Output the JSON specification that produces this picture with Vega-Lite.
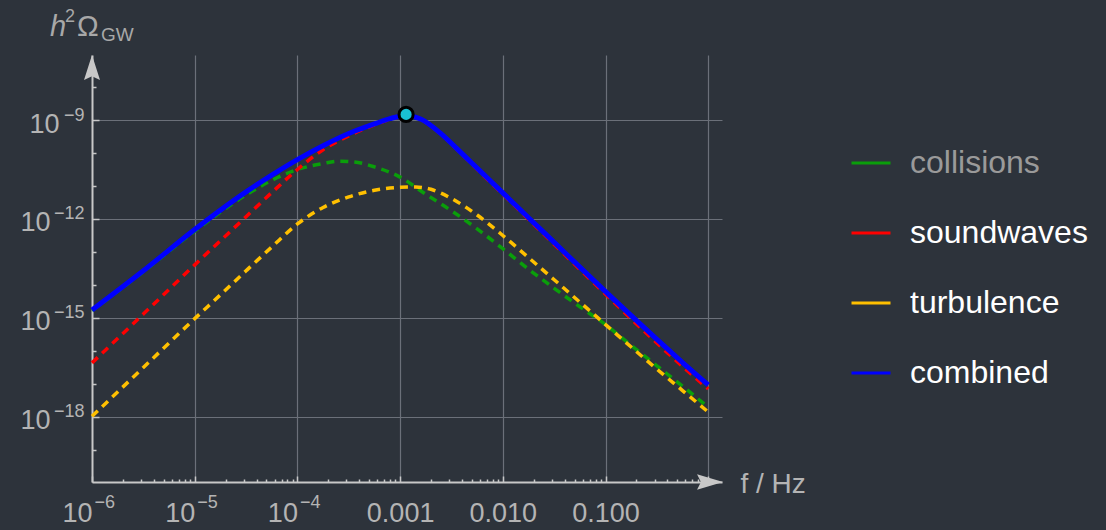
{
  "$schema": "https://vega.github.io/schema/vega-lite/v6.json",
  "width": 630,
  "height": 427,
  "autosize": {"type": "none"},
  "padding": {"left": 92, "top": 55, "right": 384, "bottom": 48},
  "background": "#2d333b",
  "config": {"view": {"stroke": null}, "font": "Liberation Sans"},
  "resolve": {"axis": {"x": "independent", "y": "independent"}},
  "datasets": {
    "curves": [
      {"series": "collisions", "f": 1e-6, "omega": 1.660e-15},
      {"series": "collisions", "f": 3.162e-6, "omega": 2.512e-14},
      {"series": "collisions", "f": 1e-5, "omega": 4.266e-13},
      {"series": "collisions", "f": 3.162e-5, "omega": 5.370e-12},
      {"series": "collisions", "f": 5.623e-5, "omega": 1.479e-11},
      {"series": "collisions", "f": 1e-4, "omega": 3.162e-11},
      {"series": "collisions", "f": 1.778e-4, "omega": 4.786e-11},
      {"series": "collisions", "f": 2.512e-4, "omega": 5.623e-11},
      {"series": "collisions", "f": 3.548e-4, "omega": 5.370e-11},
      {"series": "collisions", "f": 5.623e-4, "omega": 3.802e-11},
      {"series": "collisions", "f": 1e-3, "omega": 1.862e-11},
      {"series": "collisions", "f": 1.778e-3, "omega": 5.623e-12},
      {"series": "collisions", "f": 3.162e-3, "omega": 1.778e-12},
      {"series": "collisions", "f": 5.623e-3, "omega": 5.012e-13},
      {"series": "collisions", "f": 1e-2, "omega": 1.259e-13},
      {"series": "collisions", "f": 1.778e-2, "omega": 3.020e-14},
      {"series": "collisions", "f": 3.162e-2, "omega": 7.943e-15},
      {"series": "collisions", "f": 5.623e-2, "omega": 2.188e-15},
      {"series": "collisions", "f": 0.1, "omega": 6.310e-16},
      {"series": "collisions", "f": 0.1778, "omega": 1.479e-16},
      {"series": "collisions", "f": 0.3162, "omega": 3.548e-17},
      {"series": "collisions", "f": 0.5623, "omega": 8.511e-18},
      {"series": "collisions", "f": 1, "omega": 1.995e-18},

      {"series": "soundwaves", "f": 1e-6, "omega": 4.365e-17},
      {"series": "soundwaves", "f": 3.162e-6, "omega": 1.318e-15},
      {"series": "soundwaves", "f": 1e-5, "omega": 4.074e-14},
      {"series": "soundwaves", "f": 3.162e-5, "omega": 1.175e-12},
      {"series": "soundwaves", "f": 5.623e-5, "omega": 6.310e-12},
      {"series": "soundwaves", "f": 1e-4, "omega": 3.162e-11},
      {"series": "soundwaves", "f": 1.778e-4, "omega": 1.259e-10},
      {"series": "soundwaves", "f": 3.162e-4, "omega": 3.311e-10},
      {"series": "soundwaves", "f": 5.623e-4, "omega": 7.079e-10},
      {"series": "soundwaves", "f": 7.943e-4, "omega": 1.047e-9},
      {"series": "soundwaves", "f": 1.148e-3, "omega": 1.318e-9},
      {"series": "soundwaves", "f": 1.585e-3, "omega": 1.047e-9},
      {"series": "soundwaves", "f": 2.512e-3, "omega": 3.631e-10},
      {"series": "soundwaves", "f": 3.548e-3, "omega": 1.318e-10},
      {"series": "soundwaves", "f": 5.012e-3, "omega": 4.571e-11},
      {"series": "soundwaves", "f": 7.079e-3, "omega": 1.585e-11},
      {"series": "soundwaves", "f": 1e-2, "omega": 5.623e-12},
      {"series": "soundwaves", "f": 1.778e-2, "omega": 9.772e-13},
      {"series": "soundwaves", "f": 3.162e-2, "omega": 1.698e-13},
      {"series": "soundwaves", "f": 5.623e-2, "omega": 2.951e-14},
      {"series": "soundwaves", "f": 0.1, "omega": 5.248e-15},
      {"series": "soundwaves", "f": 0.1778, "omega": 9.333e-16},
      {"series": "soundwaves", "f": 0.3162, "omega": 1.738e-16},
      {"series": "soundwaves", "f": 0.5623, "omega": 3.388e-17},
      {"series": "soundwaves", "f": 1, "omega": 7.079e-18},

      {"series": "turbulence", "f": 1e-6, "omega": 1.047e-18},
      {"series": "turbulence", "f": 3.162e-6, "omega": 3.162e-17},
      {"series": "turbulence", "f": 1e-5, "omega": 9.550e-16},
      {"series": "turbulence", "f": 1.778e-5, "omega": 5.012e-15},
      {"series": "turbulence", "f": 3.162e-5, "omega": 2.692e-14},
      {"series": "turbulence", "f": 5.623e-5, "omega": 1.413e-13},
      {"series": "turbulence", "f": 1e-4, "omega": 7.079e-13},
      {"series": "turbulence", "f": 1.778e-4, "omega": 2.239e-12},
      {"series": "turbulence", "f": 3.162e-4, "omega": 4.677e-12},
      {"series": "turbulence", "f": 5.623e-4, "omega": 7.413e-12},
      {"series": "turbulence", "f": 1e-3, "omega": 9.120e-12},
      {"series": "turbulence", "f": 1.413e-3, "omega": 9.333e-12},
      {"series": "turbulence", "f": 1.995e-3, "omega": 7.943e-12},
      {"series": "turbulence", "f": 3.162e-3, "omega": 4.169e-12},
      {"series": "turbulence", "f": 5.623e-3, "omega": 1.318e-12},
      {"series": "turbulence", "f": 1e-2, "omega": 3.162e-13},
      {"series": "turbulence", "f": 1.778e-2, "omega": 6.761e-14},
      {"series": "turbulence", "f": 3.162e-2, "omega": 1.445e-14},
      {"series": "turbulence", "f": 5.623e-2, "omega": 3.020e-15},
      {"series": "turbulence", "f": 0.1, "omega": 6.310e-16},
      {"series": "turbulence", "f": 0.1778, "omega": 1.318e-16},
      {"series": "turbulence", "f": 0.3162, "omega": 2.818e-17},
      {"series": "turbulence", "f": 0.5623, "omega": 6.310e-18},
      {"series": "turbulence", "f": 1, "omega": 1.413e-18},

      {"series": "combined", "f": 1e-6, "omega": 1.738e-15},
      {"series": "combined", "f": 3.162e-6, "omega": 2.692e-14},
      {"series": "combined", "f": 1e-5, "omega": 4.786e-13},
      {"series": "combined", "f": 3.162e-5, "omega": 6.607e-12},
      {"series": "combined", "f": 5.623e-5, "omega": 2.138e-11},
      {"series": "combined", "f": 1e-4, "omega": 6.310e-11},
      {"series": "combined", "f": 1.778e-4, "omega": 1.660e-10},
      {"series": "combined", "f": 3.162e-4, "omega": 3.890e-10},
      {"series": "combined", "f": 5.623e-4, "omega": 7.586e-10},
      {"series": "combined", "f": 7.943e-4, "omega": 1.096e-9},
      {"series": "combined", "f": 1.148e-3, "omega": 1.380e-9},
      {"series": "combined", "f": 1.585e-3, "omega": 1.072e-9},
      {"series": "combined", "f": 2.512e-3, "omega": 3.802e-10},
      {"series": "combined", "f": 3.548e-3, "omega": 1.380e-10},
      {"series": "combined", "f": 5.012e-3, "omega": 4.898e-11},
      {"series": "combined", "f": 7.079e-3, "omega": 1.738e-11},
      {"series": "combined", "f": 1e-2, "omega": 6.166e-12},
      {"series": "combined", "f": 1.778e-2, "omega": 1.096e-12},
      {"series": "combined", "f": 3.162e-2, "omega": 1.950e-13},
      {"series": "combined", "f": 5.623e-2, "omega": 3.467e-14},
      {"series": "combined", "f": 0.1, "omega": 6.310e-15},
      {"series": "combined", "f": 0.1778, "omega": 1.175e-15},
      {"series": "combined", "f": 0.3162, "omega": 2.239e-16},
      {"series": "combined", "f": 0.5623, "omega": 4.467e-17},
      {"series": "combined", "f": 1, "omega": 9.333e-18}
    ],
    "peak": [{"f": 1.143e-3, "omega": 1.479e-9}]
  },
  "layer": [
    {
      "data": {"name": "curves"},
      "transform": [{"filter": "datum.series !== 'combined'"}],
      "mark": {"type": "line", "strokeDash": [8, 6], "strokeWidth": 3.5, "interpolate": "monotone"},
      "encoding": {
        "x": {
          "field": "f", "type": "quantitative",
          "scale": {"type": "log", "domain": [1e-6, 1.361], "nice": false},
          "axis": {
            "orient": "bottom",
            "title": "f / Hz", "titleX": 648, "titleY": 10, "titleAlign": "left", "titleBaseline": "alphabetic",
            "titleFontSize": 28, "titleFontWeight": "normal", "titleColor": "#b4b4b4", "titleFont": "Liberation Sans",
            "values": [1e-6,2e-6,3e-6,4e-6,5e-6,6e-6,7e-6,8e-6,9e-6,1e-5,2e-5,3e-5,4e-5,5e-5,6e-5,7e-5,8e-5,9e-5,1e-4,2e-4,3e-4,4e-4,5e-4,6e-4,7e-4,8e-4,9e-4,0.001,0.002,0.003,0.004,0.005,0.006,0.007,0.008,0.009,0.01,0.02,0.03,0.04,0.05,0.06,0.07,0.08,0.09,0.1,0.2,0.3,0.4,0.5,0.6,0.7,0.8,0.9,1],
            "labelExpr": "abs(log(datum.value)/LN10 - round(log(datum.value)/LN10)) > 0.01 ? '' : round(log(datum.value)/LN10) <= -4 ? '10' : round(log(datum.value)/LN10) == -3 ? '0.001' : round(log(datum.value)/LN10) == -2 ? '0.010' : round(log(datum.value)/LN10) == -1 ? '0.100' : ''",
            "labelAlign": {"condition": {"test": "datum.value < 2e-4", "value": "right"}, "value": "center"},
            "labelBaseline": "alphabetic",
            "labelFontSize": 27, "labelColor": "#b4b4b4", "labelFont": "Liberation Sans", "labelFlush": false, "labelOverlap": false, "labelPadding": 45,
            "tickSize": {"condition": {"test": "abs(log(datum.value)/LN10 - round(log(datum.value)/LN10)) < 0.01", "value": -6}, "value": -3},
            "tickColor": "#c8c8c8", "tickWidth": 1.5,
            "domainColor": "#c8c8c8", "domainWidth": 2,
            "grid": true, "gridColor": "#6b7079", "gridWidth": 1.2,
            "gridOpacity": {"condition": {"test": "abs(log(datum.value)/LN10 - round(log(datum.value)/LN10)) < 0.01 && datum.value > 2e-6", "value": 1}, "value": 0}
          }
        },
        "y": {
          "field": "omega", "type": "quantitative",
          "scale": {"type": "log", "domain": [1.07e-20, 9.33e-8], "nice": false},
          "axis": {
            "orient": "left",
            "title": null,
            "values": [1e-19,1e-18,1e-17,1e-16,1e-15,1e-14,1e-13,1e-12,1e-11,1e-10,1e-9,1e-8],
            "labelExpr": "round(log(datum.value)/LN10) % 3 == 0 ? '10' : ''",
            "labelAlign": "right", "labelBaseline": "alphabetic", "labelOffset": 12,
            "labelFontSize": 27, "labelColor": "#b4b4b4", "labelFont": "Liberation Sans", "labelFlush": false, "labelOverlap": false,
            "labelPadding": {"condition": {"test": "datum.value > 1e-10", "value": 40}, "value": 49},
            "tickSize": {"condition": {"test": "round(log(datum.value)/LN10) % 3 == 0", "value": -7}, "value": -4},
            "tickColor": "#c8c8c8", "tickWidth": 1.5,
            "domainColor": "#c8c8c8", "domainWidth": 2,
            "grid": true, "gridColor": "#6b7079", "gridWidth": 1.2,
            "gridOpacity": {"condition": {"test": "round(log(datum.value)/LN10) % 3 == 0", "value": 1}, "value": 0}
          }
        },
        "color": {
          "field": "series", "type": "nominal",
          "scale": {"domain": ["collisions", "soundwaves", "turbulence", "combined"], "range": ["#0a9e0a", "#ff0000", "#ffc000", "#0000ff"]},
          "legend": {
            "title": null, "orient": "none", "legendX": 758, "legendY": 87, "padding": 0,
            "symbolType": "stroke", "symbolSize": 1521, "symbolStrokeWidth": 3, "symbolDash": [1, 0],
            "labelFontSize": 32, "labelFont": "Liberation Sans", "labelColor": "#ffffff", "labelOffset": 18, "labelLimit": 0,
            "rowPadding": 33,
            "encode": {"labels": {"update": {"fill": {"signal": "datum.label === 'collisions' ? '#9a9a9a' : '#ffffff'"}}}}
          }
        }
      }
    },
    {
      "data": {"name": "curves"},
      "transform": [{"filter": "datum.series === 'combined'"}],
      "mark": {"type": "line", "strokeWidth": 5, "interpolate": "monotone"},
      "encoding": {
        "x": {"field": "f", "type": "quantitative", "axis": null},
        "y": {"field": "omega", "type": "quantitative", "axis": null},
        "color": {"field": "series", "type": "nominal"}
      }
    },
    {
      "data": {"name": "peak"},
      "mark": {"type": "point", "shape": "circle", "filled": true, "fill": "#19c0d4", "stroke": "#000000", "strokeWidth": 3, "size": 200, "opacity": 1},
      "encoding": {
        "x": {
          "field": "f", "type": "quantitative",
          "axis": {
            "orient": "bottom", "title": null, "values": [1e-6, 1e-5, 1e-4],
            "labelExpr": "'−' + (-round(log(datum.value)/LN10))",
            "labelAlign": "left", "labelBaseline": "alphabetic", "labelPadding": 25, "labelOffset": 2,
            "labelFontSize": 18, "labelColor": "#b4b4b4", "labelFont": "Liberation Sans", "labelFlush": false, "labelOverlap": false,
            "ticks": false, "tickSize": 0, "domain": false, "grid": false
          }
        },
        "y": {
          "field": "omega", "type": "quantitative",
          "axis": {
            "orient": "left", "title": null, "values": [1e-18, 1e-15, 1e-12, 1e-9],
            "labelExpr": "'−' + (-round(log(datum.value)/LN10))",
            "labelAlign": "right", "labelBaseline": "alphabetic", "labelPadding": 8,
            "labelFontSize": 18, "labelColor": "#b4b4b4", "labelFont": "Liberation Sans", "labelFlush": false, "labelOverlap": false,
            "ticks": false, "tickSize": 0, "domain": false, "grid": false
          }
        }
      }
    },
    {
      "data": {"values": [{}]},
      "mark": {"type": "point", "shape": "M0,-1L0.64,1L0,0.7L-0.64,1Z", "size": 625, "filled": true, "color": "#c8c8c8", "opacity": 1, "strokeWidth": 0},
      "encoding": {"x": {"datum": 1e-6, "type": "quantitative", "axis": null}, "y": {"datum": 3.89e-8, "type": "quantitative", "axis": null}}
    },
    {
      "data": {"values": [{}]},
      "mark": {"type": "point", "shape": "M1,0L-1,-0.6L-0.7,0L-1,0.6Z", "size": 676, "filled": true, "color": "#c8c8c8", "opacity": 1, "strokeWidth": 0},
      "encoding": {"x": {"datum": 1.041, "type": "quantitative", "axis": null}, "y": {"datum": 1.07e-20, "type": "quantitative", "axis": null}}
    },
    {
      "data": {"values": [{}]},
      "mark": {"type": "text", "text": "h", "font": "Liberation Sans", "fontSize": 29, "fontStyle": "italic", "align": "left", "baseline": "alphabetic", "dx": -42, "dy": -19, "color": "#a8a8a8"},
      "encoding": {"x": {"datum": 1e-6, "type": "quantitative", "axis": null}, "y": {"datum": 9.33e-8, "type": "quantitative", "axis": null}}
    },
    {
      "data": {"values": [{}]},
      "mark": {"type": "text", "text": "2", "font": "Liberation Sans", "fontSize": 18, "align": "left", "baseline": "alphabetic", "dx": -27, "dy": -33, "color": "#a8a8a8"},
      "encoding": {"x": {"datum": 1e-6, "type": "quantitative", "axis": null}, "y": {"datum": 9.33e-8, "type": "quantitative", "axis": null}}
    },
    {
      "data": {"values": [{}]},
      "mark": {"type": "text", "text": "Ω", "font": "Liberation Sans", "fontSize": 29, "align": "left", "baseline": "alphabetic", "dx": -15, "dy": -19, "color": "#a8a8a8"},
      "encoding": {"x": {"datum": 1e-6, "type": "quantitative", "axis": null}, "y": {"datum": 9.33e-8, "type": "quantitative", "axis": null}}
    },
    {
      "data": {"values": [{}]},
      "mark": {"type": "text", "text": "GW", "font": "Liberation Sans", "fontSize": 19, "align": "left", "baseline": "alphabetic", "dx": 9, "dy": -14, "color": "#a8a8a8"},
      "encoding": {"x": {"datum": 1e-6, "type": "quantitative", "axis": null}, "y": {"datum": 9.33e-8, "type": "quantitative", "axis": null}}
    }
  ]
}
